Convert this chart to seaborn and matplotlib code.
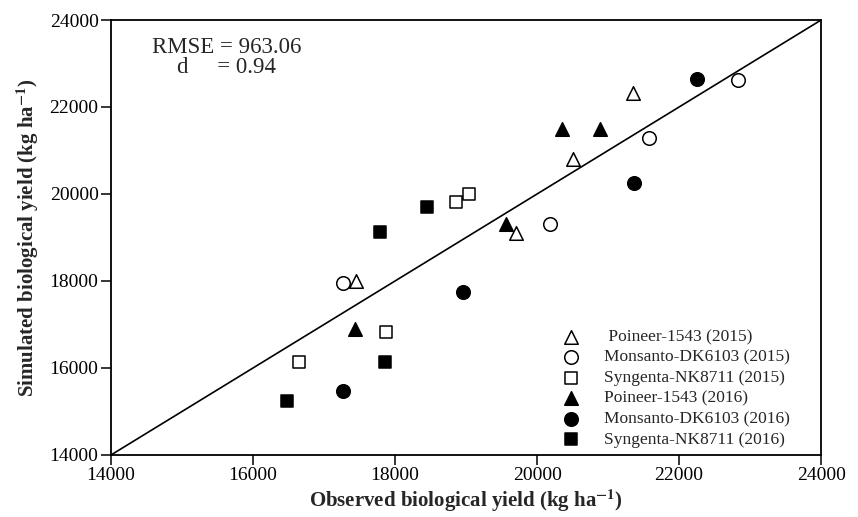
import matplotlib
matplotlib.use("Agg")
import matplotlib.pyplot as plt
import seaborn as sns
import pandas as pd

# ---- data ----
labels = [" Poineer-1543 (2015)", "Monsanto-DK6103 (2015)", "Syngenta-NK8711 (2015)",
          "Poineer-1543 (2016)", "Monsanto-DK6103 (2016)", "Syngenta-NK8711 (2016)"]

p2015_obs = [17450, 19700, 20500, 21350]
p2015_sim = [18000, 19100, 20800, 22330]
m2015_obs = [17270, 20180, 21570, 22830]
m2015_sim = [17950, 19300, 21290, 22620]
s2015_obs = [16650, 17870, 18860, 19040]
s2015_sim = [16130, 16830, 19810, 20000]
p2016_obs = [17440, 19560, 20350, 20890]
p2016_sim = [16900, 19300, 21500, 21500]
m2016_obs = [17270, 18960, 21370, 22250]
m2016_sim = [15460, 17750, 20250, 22650]
s2016_obs = [16480, 17860, 17790, 18450]
s2016_sim = [15240, 16130, 19120, 19700]

axis_min, axis_max = 14000, 24000
ticks = [14000, 16000, 18000, 20000, 22000, 24000]
rmse_text = "RMSE = 963.06\nd     = 0.94"

obs = [p2015_obs, m2015_obs, s2015_obs, p2016_obs, m2016_obs, s2016_obs]
sim = [p2015_sim, m2015_sim, s2015_sim, p2016_sim, m2016_sim, s2016_sim]
markers = ["^", "o", "s", "^", "o", "s"]
faces = ["white", "white", "white", "black", "black", "black"]
sizes = [95, 95, 80, 95, 95, 80]

rows = []
for lab, xs, ys in zip(labels, obs, sim):
    for x, y in zip(xs, ys):
        rows.append({"group": lab, "observed": x, "simulated": y})
df = pd.DataFrame(rows)

sns.set_theme(style="ticks")
plt.rcParams["font.family"] = ["Liberation Serif", "DejaVu Serif"]
plt.rcParams["mathtext.fontset"] = "stix"

fig = plt.figure(figsize=(8.58, 5.17), dpi=100)
ax = fig.add_axes([0.1294, 0.12, 0.8276, 0.8413])

# 1:1 line
sns.lineplot(x=[axis_min, axis_max], y=[axis_min, axis_max], color="black",
             linewidth=1.2, ax=ax, legend=False)

for lab, mk, fc, sz in zip(labels, markers, faces, sizes):
    sub = df[df["group"] == lab]
    sns.scatterplot(data=sub, x="observed", y="simulated", marker=mk, s=sz,
                    facecolor=fc, edgecolor="black", linewidth=1.1,
                    label=lab, ax=ax, zorder=3)

ax.set_xlim(axis_min, axis_max)
ax.set_ylim(axis_min, axis_max)
ax.set_xticks(ticks)
ax.set_yticks(ticks)
ax.tick_params(axis="both", direction="out", length=7, width=1.1,
               labelsize=14, colors="black", pad=2)
for sp in ax.spines.values():
    sp.set_visible(True)
    sp.set_linewidth(1.3)
    sp.set_color("black")

ax.set_xlabel(r"Observed biological yield (kg ha$^{\mathbf{-1}}$)",
              fontsize=15, fontweight="bold", labelpad=2)
ax.set_ylabel(r"Simulated biological yield (kg ha$^{\mathbf{-1}}$)",
              fontsize=15, fontweight="bold", labelpad=6)

ax.text(0.163, 0.962, rmse_text, transform=ax.transAxes, ha="center", va="top",
        multialignment="center", fontsize=16.5, linespacing=0.95)

leg = ax.legend(loc="lower right", bbox_to_anchor=(0.976, -0.015), frameon=False,
                fontsize=12.5, handletextpad=0.9, labelspacing=0.25,
                borderaxespad=0.4, markerscale=1.0)

fig.savefig("out.png", dpi=100)
